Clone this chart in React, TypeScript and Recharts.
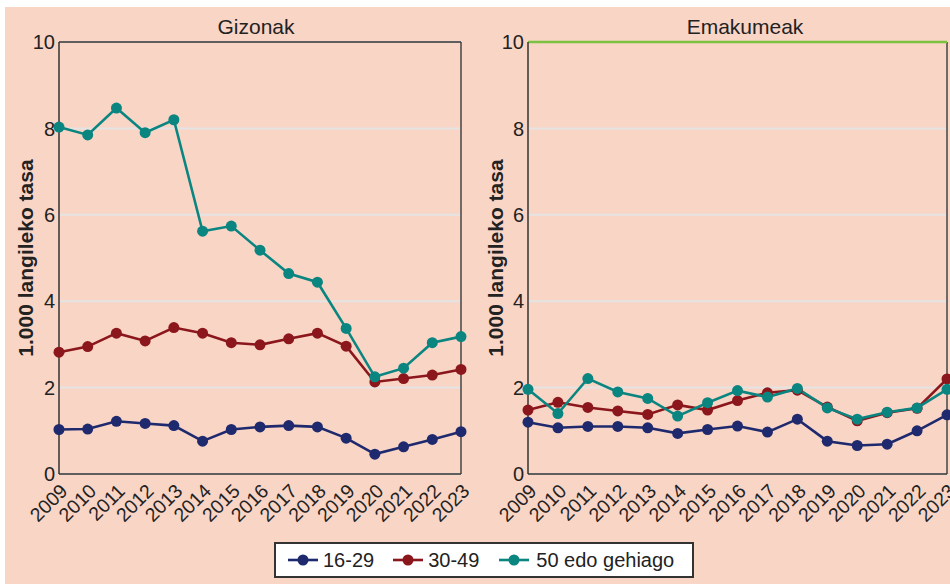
import React from 'react';
import { LineChart, Line, XAxis, YAxis, CartesianGrid, ReferenceLine } from 'recharts';

const years = ['2009', '2010', '2011', '2012', '2013', '2014', '2015', '2016', '2017', '2018', '2019', '2020', '2021', '2022', '2023'];

const men1629 = [1.03, 1.04, 1.22, 1.17, 1.12, 0.76, 1.03, 1.09, 1.12, 1.09, 0.83, 0.46, 0.63, 0.8, 0.98];
const men3049 = [2.82, 2.95, 3.26, 3.08, 3.39, 3.26, 3.04, 2.99, 3.13, 3.26, 2.96, 2.13, 2.21, 2.29, 2.42];
const men50 = [8.03, 7.85, 8.47, 7.9, 8.2, 5.62, 5.74, 5.18, 4.64, 4.44, 3.37, 2.25, 2.45, 3.04, 3.18];

const women1629 = [1.2, 1.07, 1.1, 1.1, 1.07, 0.94, 1.03, 1.11, 0.97, 1.27, 0.76, 0.66, 0.69, 1.0, 1.37];
const women3049 = [1.48, 1.66, 1.54, 1.46, 1.38, 1.6, 1.48, 1.7, 1.88, 1.94, 1.55, 1.23, 1.42, 1.52, 2.2];
const women50 = [1.96, 1.4, 2.21, 1.9, 1.75, 1.34, 1.65, 1.93, 1.78, 1.98, 1.53, 1.27, 1.43, 1.53, 1.96];

const yTicks = [0, 2, 4, 6, 8, 10];

const seriesNames = ['16-29', '30-49', '50 edo gehiago'];
const colors = ['#1f2a6e', '#8b161b', '#0a8580'];

const FONT = '"Liberation Sans", Arial, Helvetica, sans-serif';

function buildRows(a: number[], b: number[], c: number[]) {
  return years.map((year, i) => ({ year, a: a[i], b: b[i], c: c[i] }));
}

const menRows = buildRows(men1629, men3049, men50);
const womenRows = buildRows(women1629, women3049, women50);

// rotated year label, its end sits just under the tick
function YearTick(props: any) {
  const { x, y, payload } = props;
  return (
    <g transform={`translate(${x},${y + 8.5})`}>
      <text x={0} y={0} dy={13.8} textAnchor="end" transform="rotate(-45)" fontSize={19.5} fill="#222">
        {payload.value}
      </text>
    </g>
  );
}

function Panel({ rows, rightMargin, yWidth, labelDx, topColor, topWidth }: {
  rows: any[]; rightMargin: number; yWidth: number; labelDx: number; topColor: string; topWidth: number;
}) {
  const keys = ['a', 'b', 'c'];
  return (
    <LineChart width={480} height={560} data={rows} margin={{ top: 42, right: rightMargin, left: 0, bottom: 26 }}>
      <CartesianGrid vertical={false} stroke="#e4e4e4" strokeWidth={2} />
      <XAxis
        dataKey="year"
        interval={0}
        height={60}
        tickLine={false}
        tickSize={0}
        tickMargin={0}
        tick={<YearTick />}
        axisLine={{ stroke: '#333', strokeWidth: 1.5 }}
      />
      <YAxis
        domain={[0, 10]}
        ticks={yTicks}
        width={yWidth}
        tickLine={false}
        tickSize={0}
        tickMargin={4}
        fontSize={20}
        tick={{ fontSize: 20, fill: '#222' }}
        axisLine={{ stroke: '#333', strokeWidth: 1.5 }}
        label={{ value: '1.000 langileko tasa', angle: -90, position: 'center', dx: labelDx, fontSize: 21, fontWeight: 'bold', fill: '#222' }}
      />
      <ReferenceLine x="2023" stroke="#444" strokeWidth={1.5} />
      <ReferenceLine y={10} stroke={topColor} strokeWidth={topWidth} />
      {keys.map((k, i) => (
        <Line
          key={k}
          type="linear"
          dataKey={k}
          name={seriesNames[i]}
          stroke={colors[i]}
          strokeWidth={2.6}
          dot={{ r: 5.5, fill: colors[i], stroke: colors[i], strokeWidth: 0 }}
          activeDot={false}
          isAnimationActive={false}
        />
      ))}
    </LineChart>
  );
}

function LegendIcon({ color }: { color: string }) {
  return (
    <svg width={30} height={14} style={{ display: 'block', flexShrink: 0 }}>
      <line x1={0} y1={7} x2={30} y2={7} stroke={color} strokeWidth={2.6} />
      <circle cx={15} cy={7} r={5.5} fill={color} />
    </svg>
  );
}

export default function App() {
  return (
    <div style={{ position: 'absolute', left: 0, top: 0, width: 950, height: 584, background: '#fff', fontFamily: FONT, overflow: 'hidden' }}>
      <div style={{ position: 'absolute', left: 5, top: 7, width: 945, height: 577, background: '#f9d5c6' }} />
      <div style={{ position: 'absolute', left: 156, top: 14, width: 200, textAlign: 'center', fontSize: 21, color: '#222', lineHeight: '26px' }}>Gizonak</div>
      <div style={{ position: 'absolute', left: 645, top: 14, width: 200, textAlign: 'center', fontSize: 21, color: '#222', lineHeight: '26px' }}>Emakumeak</div>
      <div style={{ position: 'absolute', left: 0, top: 0 }}>
        <Panel rows={menRows} rightMargin={19} yWidth={59} labelDx={-4} topColor="#333" topWidth={1.5} />
      </div>
      <div style={{ position: 'absolute', left: 470, top: 0 }}>
        <Panel rows={womenRows} rightMargin={3} yWidth={58} labelDx={-3.5} topColor="#7cc242" topWidth={2.5} />
      </div>
      <div style={{
        position: 'absolute', left: 274, top: 542, width: 420, height: 36, boxSizing: 'border-box',
        border: '2px solid #333', background: '#fff', display: 'flex', alignItems: 'center', paddingLeft: 12,
        fontSize: 20, color: '#222', whiteSpace: 'nowrap',
      }}>
        {seriesNames.map((name, i) => (
          <div key={name} style={{ display: 'flex', alignItems: 'center', flexShrink: 0, marginRight: i === 0 ? 19 : 20 }}>
            <LegendIcon color={colors[i]} />
            <span style={{ marginLeft: i === 2 ? 7 : 5 }}>{name}</span>
          </div>
        ))}
      </div>
    </div>
  );
}
